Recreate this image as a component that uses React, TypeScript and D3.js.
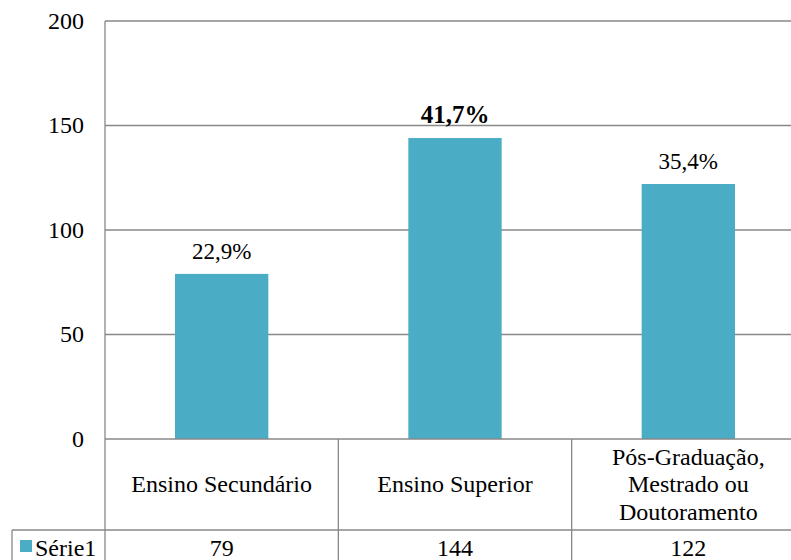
import * as d3 from 'd3';

const categories = ['Ensino Secundário', 'Ensino Superior', 'Pós-Graduação,\nMestrado ou\nDoutoramento'];
const values = [79, 144, 122];
const percentLabels = ['22,9%', '41,7%', '35,4%'];
const highlighted = ['Ensino Superior'];
const yTicks = [0, 50, 100, 150, 200];
const seriesName = 'Série1';

const W = 791;
const H = 560;
const FONT = "'Liberation Serif', 'Times New Roman', Tinos, serif";
const BAR = '#4BACC6';
const GRID = '#888888';

export default function App() {
  const plot = { left: 105, right: 805, top: 21, bottom: 439 };
  const tableRow1 = 530;
  const tableBottom = 572;
  const legendLeft = 12;
  const lineH = 27.5;

  const x = d3.scaleBand<string>().domain(categories).range([plot.left, plot.right]).padding(0);
  const y = d3.scaleLinear().domain([0, 200]).range([plot.bottom, plot.top]);
  const barW = x.bandwidth() * 0.4;
  const cx = (d: string) => x(d)! + x.bandwidth() / 2;
  const txt = { fontFamily: FONT, fill: '#000' };

  return (
    <svg
      width={W}
      height={H}
      style={{ position: 'absolute', left: 0, top: 0, background: '#fff', fontFamily: FONT }}
    >
      {/* Gridlines */}
      <g stroke={GRID} strokeWidth={1.3}>
        {yTicks.filter(t => t > 0).map(t => (
          <line key={t} x1={plot.left} x2={W + 20} y1={y(t)} y2={y(t)} />
        ))}
      </g>

      {/* Y tick labels */}
      {yTicks.map(t => (
        <text key={t} x={84} y={y(t)} dy="0.33em" textAnchor="end" fontSize={24} style={txt}>{t}</text>
      ))}

      {/* Bars */}
      {categories.map((d, i) => (
        <rect
          key={d}
          x={x(d)! + (x.bandwidth() - barW) / 2}
          y={y(values[i])}
          width={barW}
          height={plot.bottom - y(values[i])}
          fill={BAR}
        />
      ))}

      {/* Percent labels */}
      {categories.map((d, i) => (
        <text
          key={d}
          x={cx(d)}
          y={y(values[i]) - 15}
          textAnchor="middle"
          fontSize={highlighted.includes(d) ? 25 : 23}
          fontWeight={highlighted.includes(d) ? 700 : 400}
          style={txt}
        >
          {percentLabels[i]}
        </text>
      ))}

      {/* Axis and data table lines */}
      <g stroke={GRID} strokeWidth={1.3}>
        <line x1={plot.left} x2={plot.left} y1={plot.top} y2={tableBottom} />
        <line x1={plot.left} x2={W + 20} y1={plot.bottom} y2={plot.bottom} />
        <line x1={legendLeft} x2={W + 20} y1={tableRow1} y2={tableRow1} />
        <line x1={legendLeft} x2={legendLeft} y1={tableRow1} y2={tableBottom} />
        {categories.slice(1).map(d => (
          <line key={d} x1={x(d)} x2={x(d)} y1={plot.bottom} y2={tableBottom} />
        ))}
      </g>

      {/* Category labels */}
      {categories.map(d => {
        const parts = d.split('\n');
        const cy = (plot.bottom + tableRow1) / 2;
        return (
          <text key={d} textAnchor="middle" fontSize={24} style={txt}>
            {parts.map((p, k) => (
              <tspan key={k} x={cx(d)} y={cy + (k - (parts.length - 1) / 2) * lineH} dy="0.33em">
                {p}
              </tspan>
            ))}
          </text>
        );
      })}

      {/* Values row */}
      {categories.map((d, i) => (
        <text key={d} x={cx(d)} y={556} textAnchor="middle" fontSize={24} style={txt}>{values[i]}</text>
      ))}

      {/* Legend key */}
      <rect x={20} y={540} width={12} height={12} fill={BAR} />
      <text x={35} y={556} fontSize={24} style={txt}>{seriesName}</text>
    </svg>
  );
}
